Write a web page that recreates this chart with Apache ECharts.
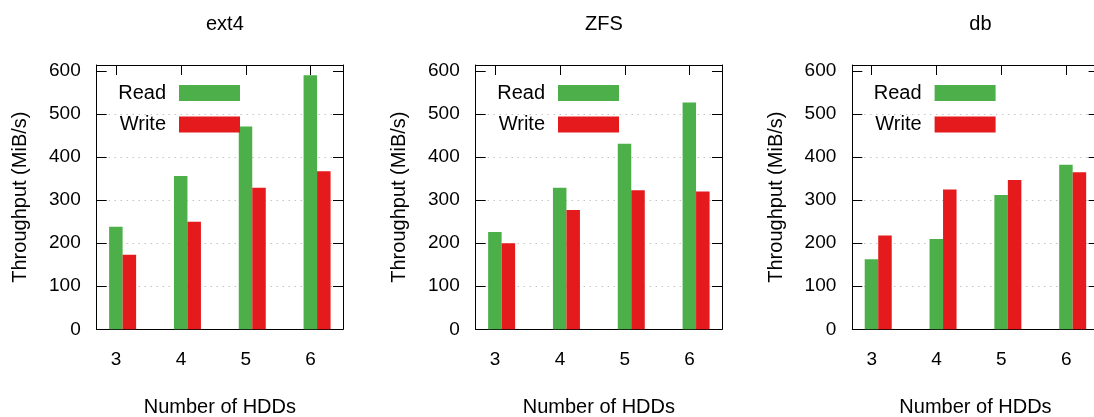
<!DOCTYPE html>
<html>
<head>
<meta charset="utf-8">
<script src="https://cdn.jsdelivr.net/npm/echarts@6/dist/echarts.min.js"></script>
<style>
  html, body { margin: 0; padding: 0; background: #fff; }
  #chart { width: 1094px; height: 417px; }
</style>
</head>
<body>
<div id="chart"></div>
<script>
// data
const hdds = [3, 4, 5, 6];
const panels = ["ext4", "ZFS", "db"];
const readExt4 = [238, 356, 471, 590];
const writeExt4 = [173, 250, 329, 367];
const readZfs = [226, 329, 431, 527];
const writeZfs = [200, 277, 323, 320];
const readDb = [163, 210, 312, 382];
const writeDb = [218, 325, 347, 365];
const yTicks = [0, 100, 200, 300, 400, 500, 600];

const readSeries = [readExt4, readZfs, readDb];
const writeSeries = [writeExt4, writeZfs, writeDb];

const COLORS = { read: "#4daf4a", write: "#e41a1c" };
const FONT = "'Liberation Sans', Arial, Helvetica, sans-serif";

// layout of each panel box (pixels)
const boxLeft = [96.7, 475.7, 852.3];
const boxTop = 65;
const boxW = 246.3;
const boxH = 264.3;
const xMin = 2.7;
const xMax = 6.5;
const yMax = 614;
const unit = boxW / (xMax - xMin);

const grid = [];
const xAxis = [];
const yAxis = [];
const series = [];
const title = [];
const legend = [];

const black = { color: "#000", width: 1 };

panels.forEach((name, k) => {
  const L = boxLeft[k];
  // visible box
  grid.push({ left: L, top: boxTop, width: boxW, height: boxH, outerBoundsMode: "none" });
  // bar grid: category bands one unit wide, pair centred at x + 0.1
  grid.push({
    left: L + (hdds[0] + 0.1 - 0.5 - xMin) * unit,
    top: boxTop,
    width: hdds.length * unit,
    height: boxH,
    outerBoundsMode: "none",
  });

  const gBox = 2 * k;
  const gBar = 2 * k + 1;

  xAxis.push({
    type: "value",
    gridIndex: gBox,
    position: "bottom",
    min: xMin,
    max: xMax,
    axisLine: { show: true, onZero: false, lineStyle: black },
    axisTick: { show: true, inside: true, length: 10, customValues: hdds, lineStyle: black },
    axisLabel: { customValues: hdds, color: "#000", fontSize: 19, fontFamily: FONT, margin: 21 },
    splitLine: { show: false },
    name: "Number of HDDs",
    nameLocation: "middle",
    nameGap: 68,
    nameTextStyle: { color: "#000", fontSize: 20, fontFamily: FONT },
  });
  xAxis.push({
    type: "value",
    gridIndex: gBox,
    position: "top",
    min: xMin,
    max: xMax,
    axisLine: { show: true, onZero: false, lineStyle: black },
    axisTick: { show: true, inside: true, length: 10, customValues: hdds, lineStyle: black },
    axisLabel: { show: false },
    splitLine: { show: false },
  });
  xAxis.push({
    type: "category",
    gridIndex: gBar,
    data: hdds.map(String),
    show: false,
  });

  yAxis.push({
    type: "value",
    gridIndex: gBox,
    position: "left",
    min: 0,
    max: yMax,
    interval: 100,
    axisLine: { show: true, onZero: false, lineStyle: black },
    axisTick: { show: true, inside: true, length: 10, customValues: yTicks, lineStyle: black },
    axisLabel: { customValues: yTicks, color: "#000", fontSize: 19, fontFamily: FONT, margin: 16 },
    splitLine: {
      show: true,
      showMinLine: false,
      showMaxLine: false,
      lineStyle: { color: "#aaaaaa", width: 1, type: [1, 5] },
    },
    name: "Throughput (MiB/s)",
    nameLocation: "middle",
    nameGap: 66,
    nameRotate: 90,
    nameTextStyle: { color: "#000", fontSize: 20, fontFamily: FONT },
  });
  yAxis.push({
    type: "value",
    gridIndex: gBox,
    position: "right",
    min: 0,
    max: yMax,
    interval: 100,
    axisLine: { show: true, onZero: false, lineStyle: black },
    axisTick: { show: true, inside: true, length: 10, customValues: yTicks, lineStyle: black },
    axisLabel: { show: false },
    splitLine: { show: false },
  });
  yAxis.push({
    type: "value",
    gridIndex: gBar,
    min: 0,
    max: yMax,
    show: false,
    splitLine: { show: false },
  });

  series.push({
    name: "Read",
    type: "bar",
    xAxisIndex: 3 * k + 2,
    yAxisIndex: 3 * k + 2,
    data: readSeries[k],
    barWidth: 13.5,
    barGap: "0%",
    itemStyle: { color: COLORS.read },
  });
  series.push({
    name: "Write",
    type: "bar",
    xAxisIndex: 3 * k + 2,
    yAxisIndex: 3 * k + 2,
    data: writeSeries[k],
    barWidth: 13.5,
    barGap: "0%",
    itemStyle: { color: COLORS.write },
  });

  title.push({
    text: name,
    left: L + boxW / 2,
    top: 9,
    textAlign: "center",
    textStyle: { color: "#000", fontSize: 20, fontWeight: "normal", fontFamily: FONT },
  });

  legend.push({
    data: ["Read", "Write"],
    orient: "vertical",
    align: "right",
    right: 1094 - (L + 143.3),
    top: 83,
    padding: 0,
    itemWidth: 61,
    itemHeight: 16,
    itemGap: 11.4,
    icon: "rect",
    selectedMode: false,
    textStyle: {
      color: "#000",
      fontSize: 20,
      fontFamily: FONT,
      lineHeight: 16,
      padding: [0, 8, 0, 0],
    },
  });
});

const chart = echarts.init(document.getElementById("chart"));
chart.setOption({
  animation: false,
  backgroundColor: "#fff",
  title,
  legend,
  grid,
  xAxis,
  yAxis,
  series,
});
</script>
</body>
</html>
